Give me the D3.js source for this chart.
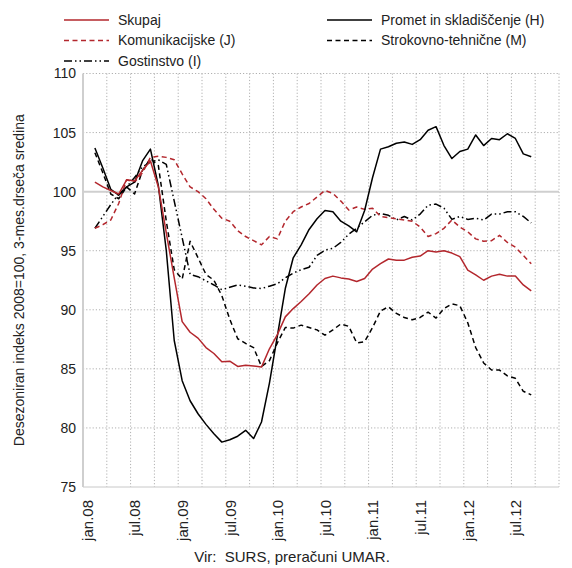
<!DOCTYPE html>
<html lang="sl">
<head>
<meta charset="UTF-8">
<title>Storitvene dejavnosti</title>
<script src="https://d3js.org/d3.v7.min.js"></script>
<style>
    body { margin: 0; background: #fff; }
    text { font-family: "Liberation Sans", Arial, sans-serif; fill: #222; }
    .grid line { stroke: #b0b0b0; stroke-dasharray: 1.2,2; stroke-width: 1; }
    .series { fill: none; stroke-width: 1.5px; stroke-linejoin: round; }
</style>
</head>
<body>
<div id="chart"></div>
<script>
// months from jan.08 (index 0); series start at feb.08 (index 1)
var nMonths = 60;
var firstMonth = 1;
var tickLabels = ["jan.08", "jul.08", "jan.09", "jul.09", "jan.10", "jul.10", "jan.11", "jul.11", "jan.12", "jul.12"];
var yTicks = [75, 80, 85, 90, 95, 100, 105, 110];

var skupaj = [100.8, 100.4, 100.1, 99.8, 101.0, 100.9, 101.8, 102.6, 100.4, 96.5,
    92.7, 89.0, 88.1, 87.6, 86.8, 86.3, 85.6, 85.65, 85.2, 85.3,
    85.25, 85.15, 86.7, 87.9, 89.4, 90.1, 90.7, 91.35, 92.1, 92.65,
    92.85, 92.7, 92.6, 92.4, 92.65, 93.45, 93.9, 94.3, 94.2, 94.2,
    94.45, 94.55, 95.0, 94.9, 95.0, 94.8, 94.5, 93.35, 92.95, 92.5,
    92.85, 93.0, 92.85, 92.85, 92.1, 91.6];
var promet = [103.7, 102.0, 100.2, 99.7, 100.4, 100.8, 102.6, 103.6, 100.5, 95.0,
    87.4, 84.0, 82.3, 81.2, 80.3, 79.5, 78.8, 79.0, 79.3, 79.8,
    79.1, 80.5, 83.8, 87.8, 91.8, 94.4, 95.5, 96.8, 97.7, 98.4,
    98.3, 97.5, 97.1, 96.6, 98.4, 101.2, 103.6, 103.8, 104.1, 104.2,
    104.0, 104.4, 105.2, 105.5, 103.9, 102.8, 103.4, 103.6, 104.8, 103.9,
    104.5, 104.4, 104.9, 104.5, 103.2, 102.95];
var komunikacije = [96.9, 97.2, 97.6, 99.0, 101.0, 100.8, 101.6, 102.9, 103.0, 102.9,
    102.7, 101.5, 100.4, 100.0, 99.4, 98.5, 97.75, 97.5, 96.7, 96.2,
    95.85, 95.5, 96.2, 96.0, 97.5, 98.3, 98.7, 99.0, 99.55, 100.1,
    99.85, 99.2, 98.45, 98.7, 98.5, 98.6, 97.9, 97.8, 97.7, 97.6,
    97.5, 97.0, 96.2, 96.45, 96.9, 97.6, 97.0, 96.6, 96.0, 95.8,
    95.85, 96.3, 95.7, 95.3, 94.6, 93.9];
var strokovne = [103.3, 101.6, 99.8, 99.4, 100.4, 99.8, 101.8, 102.8, 102.2, 97.5,
    93.4, 92.6, 95.8, 94.4, 93.0, 92.5, 91.2, 89.2, 87.55, 87.15,
    86.8, 85.2, 85.7, 87.2, 88.5, 88.45, 88.7, 88.5, 88.3, 87.85,
    88.3, 88.8, 88.6, 87.2, 87.3, 88.5, 89.9, 90.25, 89.7, 89.35,
    89.15, 89.35, 89.8, 89.3, 90.1, 90.5, 90.35, 88.9, 86.8, 85.5,
    84.9, 84.9, 84.4, 84.2, 83.1, 82.8];
var gostinstvo = [96.9, 97.9, 98.9, 99.8, 100.4, 101.2, 102.1, 102.5, 102.7, 102.3,
    99.2, 96.1, 93.0, 92.8, 92.45, 92.1, 91.7, 91.9, 92.1, 92.0,
    91.85, 91.8, 92.0, 92.2, 92.7, 93.1, 93.4, 93.6, 94.6, 95.05,
    95.2, 95.7, 96.4, 96.9, 97.45, 98.0, 98.15, 98.0, 97.6, 97.9,
    97.6, 98.1, 98.85, 98.95, 98.6, 97.65, 97.9, 97.65, 97.75, 97.6,
    98.1, 98.1, 98.3, 98.3, 97.9, 97.35];

var red = "#b3272d";
var series = [
    {name: "Skupaj", values: skupaj, color: red, dash: null, col: 0, row: 0},
    {name: "Promet in skladiščenje (H)", values: promet, color: "#000", dash: null, col: 1, row: 0},
    {name: "Komunikacijske (J)", values: komunikacije, color: red, dash: "5,3.5", col: 0, row: 1},
    {name: "Strokovno-tehnične (M)", values: strokovne, color: "#000", dash: "5,3.5", col: 1, row: 1},
    {name: "Gostinstvo (I)", values: gostinstvo, color: "#000", dash: "8,3,1.5,3,1.5,3", col: 0, row: 2}
];

var width = 572, height = 568;
var plot = {left: 83, right: 559, top: 73.5, bottom: 487};

var svg = d3.select("#chart").append("svg")
    .attr("width", width)
    .attr("height", height);

var x = d3.scaleLinear().domain([0, nMonths]).range([plot.left, plot.right]);
var y = d3.scaleLinear().domain([75, 110]).range([plot.bottom, plot.top]);

// grid
var grid = svg.append("g").attr("class", "grid");
grid.selectAll(".h").data(yTicks.filter(function(d) { return d != 100 && d != 75; }))
    .enter().append("line")
    .attr("x1", plot.left).attr("x2", plot.right)
    .attr("y1", function(d) { return y(d); }).attr("y2", function(d) { return y(d); });
grid.selectAll(".v").data(d3.range(3, nMonths + 1, 3))
    .enter().append("line")
    .attr("y1", plot.top).attr("y2", plot.bottom)
    .attr("x1", function(d) { return x(d); }).attr("x2", function(d) { return x(d); });

// 100 line, bottom and left axis
svg.append("line").attr("x1", plot.left).attr("x2", plot.right)
    .attr("y1", y(100)).attr("y2", y(100))
    .attr("stroke", "#cfcfcf").attr("stroke-width", 2);
svg.append("line").attr("x1", plot.left).attr("x2", plot.right)
    .attr("y1", y(75)).attr("y2", y(75))
    .attr("stroke", "#c8c8c8").attr("stroke-width", 1);
svg.append("line").attr("x1", plot.left).attr("x2", plot.left)
    .attr("y1", plot.top).attr("y2", plot.bottom)
    .attr("stroke", "#cfcfcf").attr("stroke-width", 2);

// y axis labels
var yAxis = d3.axisLeft(y).tickValues(yTicks).tickSize(0).tickPadding(6);
var gy = svg.append("g").attr("transform", "translate(" + (plot.left - 1) + ",0)").call(yAxis);
gy.select(".domain").remove();
gy.selectAll("text").style("font-size", "14px").attr("fill", "#222");

// x axis labels
var xAxis = d3.axisBottom(x)
    .tickValues(d3.range(0, 60, 6).map(function(d) { return d + 0.5; }))
    .tickFormat(function(d, i) { return tickLabels[i]; })
    .tickSize(0);
var gx = svg.append("g").attr("transform", "translate(0," + plot.bottom + ")").call(xAxis);
gx.select(".domain").remove();
gx.selectAll("text")
    .style("font-size", "15px")
    .attr("fill", "#222")
    .attr("text-anchor", "end")
    .attr("transform", "rotate(-90)")
    .attr("x", -13)
    .attr("y", 0)
    .attr("dy", "0.35em");

// axis title
svg.append("text")
    .attr("transform", "translate(24," + ((plot.top + plot.bottom) / 2) + ") rotate(-90)")
    .attr("text-anchor", "middle")
    .style("font-size", "14px")
    .text("Desezoniran indeks 2008=100, 3-mes.drseča sredina");

// source
svg.append("text")
    .attr("x", 292).attr("y", 562)
    .attr("text-anchor", "middle")
    .style("font-size", "15px")
    .style("white-space", "pre")
    .text("Vir:  SURS, preračuni UMAR.");

// lines
var line = d3.line()
    .x(function(d, i) { return x(firstMonth + i + 0.5); })
    .y(function(d) { return y(d); });

svg.selectAll(".series").data(series.slice().reverse())
    .enter().append("path")
    .attr("class", "series")
    .attr("d", function(s) { return line(s.values); })
    .attr("stroke", function(s) { return s.color; })
    .attr("stroke-dasharray", function(s) { return s.dash; });

// legend
var legX = [64, 327], legY = [20, 40.5, 61];
var leg = svg.selectAll(".leg").data(series).enter().append("g")
    .attr("transform", function(s) { return "translate(" + legX[s.col] + "," + legY[s.row] + ")"; });
leg.append("line")
    .attr("x1", 0).attr("x2", 45)
    .attr("stroke", function(s) { return s.color; })
    .attr("stroke-width", 1.5)
    .attr("stroke-dasharray", function(s) { return s.dash; });
leg.append("text")
    .attr("x", 54).attr("dy", "0.35em")
    .style("font-size", "14px")
    .text(function(s) { return s.name; });
</script>
</body>
</html>
